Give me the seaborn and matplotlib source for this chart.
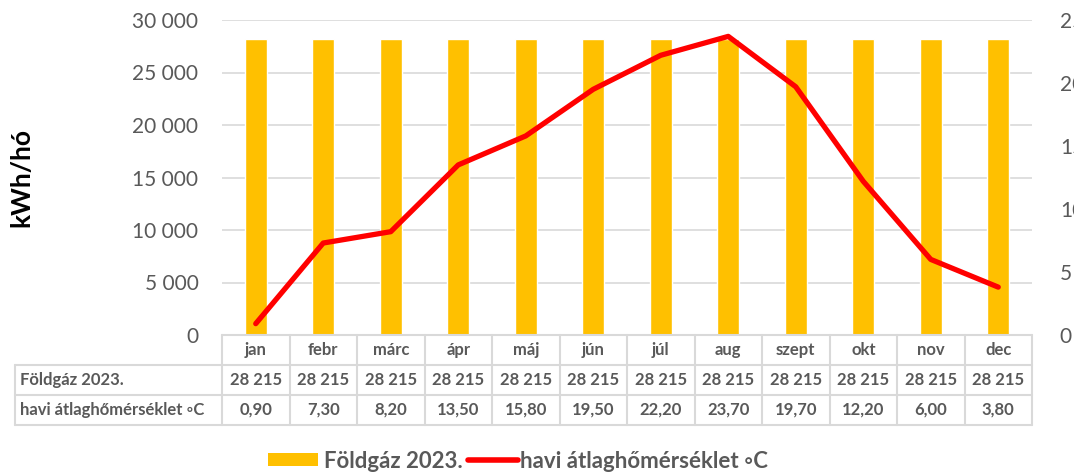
import numpy as np
import pandas as pd
import matplotlib
matplotlib.use("Agg")
import matplotlib.pyplot as plt
import seaborn as sb
from matplotlib.patches import Patch
from matplotlib.lines import Line2D
from matplotlib.ticker import FuncFormatter

months = ["jan", "febr", "márc", "ápr", "máj", "jún", "júl", "aug", "szept", "okt", "nov", "dec"]
gas = [28215] * 12
temp = [0.90, 7.30, 8.20, 13.50, 15.80, 19.50, 22.20, 23.70, 19.70, 12.20, 6.00, 3.80]
gas_label = "Földgáz 2023."
temp_label = "havi átlaghőmérséklet ◦C"
gas_ticks = [0, 5000, 10000, 15000, 20000, 25000, 30000]
temp_ticks = [0, 5, 10, 15, 20, 25]

sb.set_style("white")
plt.rcParams["font.family"] = ["Lato", "DejaVu Sans"]

gray = "#595959"
grid = "#d9d9d9"
yellow = "#FFC000"

df = pd.DataFrame({"month": months, "gas": gas, "temp": temp, "pos": np.arange(12)})

fig = plt.figure(figsize=(10.74, 4.75), dpi=100)
ax = fig.add_axes([222 / 1074, 1 - 335 / 475, 810 / 1074, 315 / 475])

sb.barplot(data=df, x="month", y="gas", color=yellow, width=0.32, saturation=1, ax=ax)
ax.set_xlim(-0.5, 11.5)
ax.set_ylim(0, 30000)
ax.set_yticks(gas_ticks)
ax.yaxis.set_major_formatter(FuncFormatter(lambda v, p: f"{int(v):,}".replace(",", " ")))
ax.tick_params(axis="y", labelsize=15, labelcolor=gray, length=0, pad=17)
ax.set_xticks([])
ax.set_xlabel("")
ax.set_ylabel("kWh/hó", fontsize=19, fontweight="bold", color="black", labelpad=71)
ax.grid(axis="y", color=grid, linewidth=1.2)
ax.set_axisbelow(True)
for s in ax.spines.values():
    s.set_visible(False)

ax2 = ax.twinx()
sb.lineplot(data=df, x="pos", y="temp", color="#FF0000", linewidth=3.8, ax=ax2,
            solid_capstyle="round", solid_joinstyle="round")
ax2.set_ylim(0, 25)
ax2.set_yticks(temp_ticks)
ax2.tick_params(axis="y", labelsize=15, labelcolor=gray, length=0, pad=20)
ax2.set_ylabel("")
ax2.set_xlabel("")
ax2.set_xlim(-0.5, 11.5)
for s in ax2.spines.values():
    s.set_visible(False)

# data table under the plot, drawn in its own pixel-like axes
tax = fig.add_axes([15 / 1074, 1 - 425 / 475, 1017 / 1074, 90 / 475])
tax.set_xlim(0, 1017)
tax.set_ylim(90, 0)
tax.axis("off")
lw = 1.5
lab_w = 207
col_w = 810 / 12
row_h = 30
for k in range(13):
    tax.plot([lab_w + k * col_w] * 2, [0, 3 * row_h], color=grid, lw=lw, clip_on=False)
tax.plot([0, 0], [row_h, 3 * row_h], color=grid, lw=lw, clip_on=False)
tax.plot([lab_w, 1017], [0, 0], color=grid, lw=lw, clip_on=False)
for r in (1, 2, 3):
    tax.plot([0, 1017], [r * row_h] * 2, color=grid, lw=lw, clip_on=False)

tfont = dict(fontsize=12, fontweight="bold", color=gray, va="center")
rows = [gas_label, temp_label]
vals = [[f"{v:,}".replace(",", " ") for v in gas], [f"{v:.2f}".replace(".", ",") for v in temp]]
for j, m in enumerate(months):
    tax.text(lab_w + (j + 0.5) * col_w, 0.5 * row_h, m, ha="center", **tfont)
for i, lab in enumerate(rows):
    y = (i + 1.5) * row_h
    tax.text(5, y, lab, ha="left", **tfont)
    for j in range(12):
        tax.text(lab_w + (j + 0.5) * col_w, y, vals[i][j], ha="center", **tfont)

# legend: two entries placed separately
handles = [Patch(facecolor=yellow, edgecolor="none"),
           Line2D([0], [0], color="#FF0000", linewidth=4, solid_capstyle="round")]
ly = 1 - 461 / 475
for h, lab, x0, tp in [(handles[0], rows[0], 268, 0.25), (handles[1], rows[1], 468, 0.1)]:
    leg = fig.legend([h], [lab], loc="center left", bbox_to_anchor=(x0 / 1074, ly),
                     frameon=False, prop={"weight": "bold", "size": 16}, labelcolor=gray,
                     handlelength=2.25, handleheight=0.54, handletextpad=tp, borderpad=0,
                     borderaxespad=0)

fig.savefig("out.png", dpi=100)
